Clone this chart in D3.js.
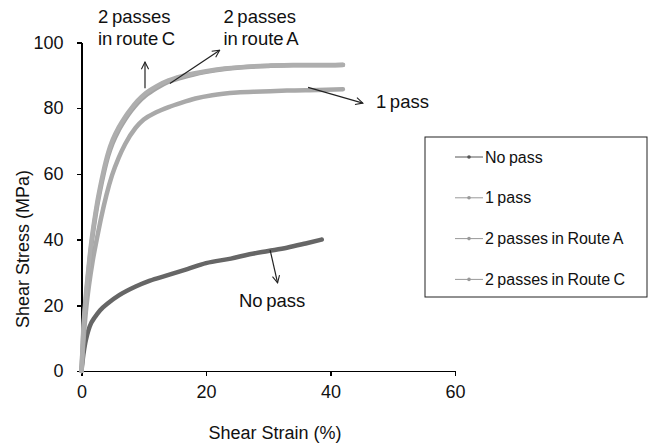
<!DOCTYPE html>
<html lang="en">
<head>
<meta charset="utf-8">
<title>Shear stress vs shear strain</title>
<script src="https://cdn.jsdelivr.net/npm/d3@7/dist/d3.min.js"></script>
<style>
  body { margin: 0; background: #fff; }
  text { font-family: "Liberation Sans", Arial, sans-serif; fill: #111; }
  .axis path, .axis line { stroke: #000; stroke-width: 1.5px; shape-rendering: crispEdges; }
</style>
</head>
<body>
<script>
// series data: [shear strain %, shear stress MPa]
var noPass = [[0,0],[0.3,5],[0.6,8.5],[0.9,11],[1.3,13.5],[2.2,16.5],[3,18.5],[4.3,20.7],[6,23],
  [8.7,25.7],[11,27.5],[13.6,29],[17,31],[20,32.8],[24,34.2],[27,35.5],[30,36.5],[33,37.5],[36,38.8],[38.6,40]];
var onePass = [[0,0],[0.3,9],[0.7,18],[1.2,26],[1.8,33.5],[2.5,40.5],[3.2,47],[4,53.5],[4.9,59.5],[6,65],[7,69],
  [8.7,74],[10,76.5],[12,78.7],[14,80.3],[16,81.6],[18.3,82.9],[21,83.9],[25,84.7],[29,85],[33,85.3],[38,85.5],[42,85.7]];
var routeA = [[0,0],[0.3,12],[0.7,22],[1,28],[1.5,37],[2,44],[2.5,50],[3,55],[3.5,59.5],[4.3,65.5],[5,69.3],[6,73.3],
  [7,76.5],[8,79.2],[9,81.5],[10.3,83.8],[12,86],[14,88],[16,89.2],[18,90.2],[20,91],[23,91.9],[26.6,92.5],[30,92.8],[34,93],[38,93],[42,93.1]];
var routeC = [[0,0],[0.3,13],[0.7,23],[1,29],[1.5,38],[2,45],[2.5,51],[3,56],[3.5,60.5],[4.3,66.5],[5,70.3],[6,74.2],
  [7,77.3],[8,79.9],[9,82.2],[10.3,84.5],[12,86.6],[14,88.4],[16,89.6],[18,90.5],[20,91.2],[23,92],[26.6,92.6],[30,92.9],[34,93.1],[38,93.1],[42,93.2]];

var seriesNames = ["No pass", "1 pass", "2 passes in Route A", "2 passes in Route C"];
var xTicks = [0, 20, 40, 60];
var yTicks = [0, 20, 40, 60, 80, 100];

// annotations in data units: arrow from -> to, and label lines
var arrows = [
  {from: [10.2, 86], to: [10.2, 94]},
  {from: [14.2, 87.5], to: [22.2, 97.6]},
  {from: [36.4, 86.3], to: [45.2, 81.5]},
  {from: [30.3, 36.8], to: [31.5, 26.8]}
];
var labels = [
  {at: [2.65, 105.8], lines: ["2 passes", "in route C"]},
  {at: [22.8, 105.8], lines: ["2 passes", "in route A"]},
  {at: [47.3, 79.9], lines: ["1 pass"]},
  {at: [25.3, 19.5], lines: ["No pass"]}
];

var width = 649, height = 445;

var svg = d3.select("body").append("svg")
  .attr("width", width)
  .attr("height", height);

var x = d3.scaleLinear().domain([0, 60]).range([81.5, 455]);
var y = d3.scaleLinear().domain([0, 100]).range([371, 42.3]);

var colors = ["#666666", "#a9a9a9", "#a4a4a4", "#aeaeae"];
var series = [noPass, onePass, routeA, routeC];

svg.append("defs").append("marker")
  .attr("id", "head")
  .attr("viewBox", "0 0 10 10")
  .attr("refX", 9).attr("refY", 5)
  .attr("markerWidth", 9).attr("markerHeight", 9)
  .attr("markerUnits", "userSpaceOnUse")
  .attr("orient", "auto")
  .append("path")
  .attr("d", "M1,1 L9,5 L1,9")
  .attr("fill", "none")
  .attr("stroke", "#222")
  .attr("stroke-width", 1.2);

// axes
var xAxis = d3.axisBottom(x).tickValues(xTicks).tickSize(5).tickSizeOuter(0);
var yAxis = d3.axisLeft(y).tickValues(yTicks).tickSize(5).tickSizeOuter(0);

var gx = svg.append("g").attr("class", "axis")
  .attr("transform", "translate(0," + y(0) + ")")
  .call(xAxis);
gx.selectAll("text").attr("y", 13).attr("dy", "0.75em")
  .style("font-size", "18px").style("font-family", "Liberation Sans, Arial, sans-serif").attr("fill", "#111");

var gy = svg.append("g").attr("class", "axis")
  .attr("transform", "translate(" + x(0) + ",0)")
  .call(yAxis);
gy.selectAll("text").attr("x", -18)
  .style("font-size", "18px").style("font-family", "Liberation Sans, Arial, sans-serif").attr("fill", "#111");

// curves
var line = d3.line()
  .x(function(d) { return x(d[0]); })
  .y(function(d) { return y(d[1]); })
  .curve(d3.curveMonotoneX);

series.forEach(function(s, i) {
  svg.append("path")
    .datum(s)
    .attr("d", line)
    .attr("fill", "none")
    .attr("stroke", colors[i])
    .attr("stroke-width", 4.5)
    .attr("stroke-linejoin", "round")
    .attr("stroke-linecap", "round");
});

// axis titles
svg.append("text")
  .attr("x", 275).attr("y", 439)
  .attr("text-anchor", "middle")
  .style("font-size", "18px")
  .text("Shear Strain (%)");

svg.append("text")
  .attr("transform", "translate(29,249) rotate(-90)")
  .attr("text-anchor", "middle")
  .style("font-size", "18px")
  .text("Shear Stress (MPa)");

// annotations
arrows.forEach(function(a) {
  svg.append("line")
    .attr("x1", x(a.from[0])).attr("y1", y(a.from[1]))
    .attr("x2", x(a.to[0])).attr("y2", y(a.to[1]))
    .attr("stroke", "#222").attr("stroke-width", 1.2)
    .attr("marker-end", "url(#head)");
});

labels.forEach(function(l) {
  var t = svg.append("text")
    .attr("x", x(l.at[0])).attr("y", y(l.at[1]))
    .style("font-size", "18.5px")
    .style("word-spacing", "-1.5px");
  l.lines.forEach(function(s, j) {
    t.append("tspan")
      .attr("x", x(l.at[0]))
      .attr("dy", j === 0 ? 0 : 22)
      .text(s);
  });
});

// legend
var legend = svg.append("g").attr("transform", "translate(425,137)");
legend.append("rect")
  .attr("width", 222).attr("height", 160)
  .attr("fill", "#fff").attr("stroke", "#222").attr("stroke-width", 1);

var item = legend.selectAll("g.item")
  .data(seriesNames)
  .enter().append("g")
  .attr("class", "item")
  .attr("transform", function(d, i) { return "translate(0," + (20 + i * 40.8) + ")"; });

item.append("line")
  .attr("x1", 30).attr("x2", 58)
  .attr("stroke", function(d, i) { return i === 0 ? "#555" : "#999"; })
  .attr("stroke-width", 1);
item.append("circle")
  .attr("cx", 44).attr("r", 1.8)
  .attr("fill", function(d, i) { return i === 0 ? "#555" : "#999"; });
item.append("text")
  .attr("x", 60).attr("dy", "0.35em")
  .style("font-size", "16px")
  .style("word-spacing", "-1px")
  .text(function(d) { return d; });
</script>
</body>
</html>
